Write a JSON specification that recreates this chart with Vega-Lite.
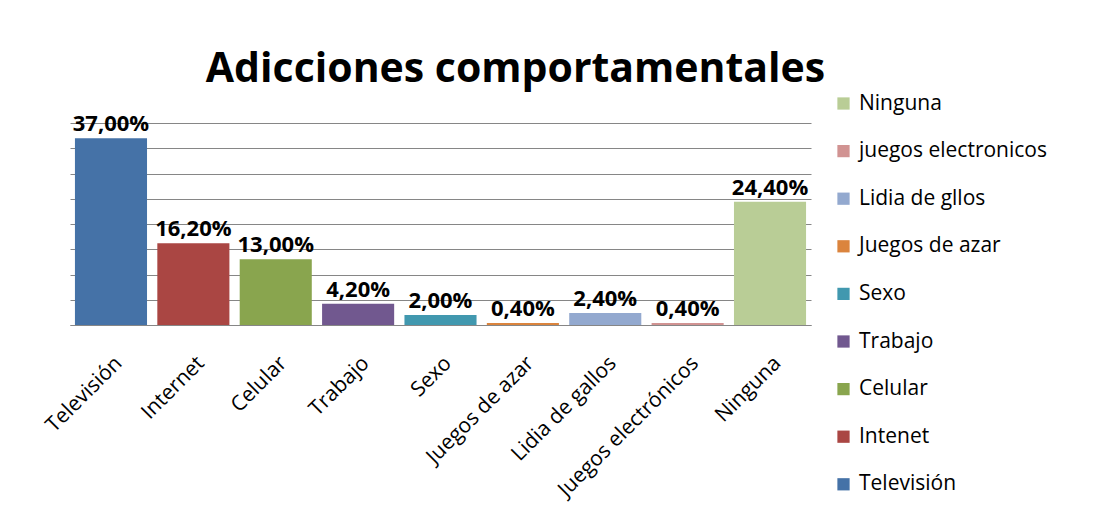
{
  "$schema": "https://vega.github.io/schema/vega-lite/v6.json",
  "width": 741,
  "height": 202,
  "autosize": {"type": "none"},
  "padding": {"left": 70, "top": 123, "right": 292, "bottom": 201},
  "background": "white",
  "title": {
    "text": "Adicciones  comportamentales",
    "font": "Open Sans",
    "fontSize": 41,
    "fontWeight": "bold",
    "color": "black",
    "anchor": "middle",
    "dx": 75,
    "offset": 2
  },
  "data": {
    "values": [
      {"categoria": "Televisión", "leyenda": "Televisión", "pct": 0.37},
      {"categoria": "Internet", "leyenda": "Intenet", "pct": 0.162},
      {"categoria": "Celular", "leyenda": "Celular", "pct": 0.13},
      {"categoria": "Trabajo", "leyenda": "Trabajo", "pct": 0.042},
      {"categoria": "Sexo", "leyenda": "Sexo", "pct": 0.02},
      {"categoria": "Juegos de azar", "leyenda": "Juegos de azar", "pct": 0.004},
      {"categoria": "Lidia de gallos", "leyenda": "Lidia de gllos", "pct": 0.024},
      {"categoria": "Juegos electrónicos", "leyenda": "juegos electronicos", "pct": 0.004},
      {"categoria": "Ninguna", "leyenda": "Ninguna", "pct": 0.244}
    ]
  },
  "encoding": {
    "x": {
      "field": "categoria",
      "type": "nominal",
      "sort": ["Televisión", "Internet", "Celular", "Trabajo", "Sexo", "Juegos de azar", "Lidia de gallos", "Juegos electrónicos", "Ninguna"],
      "scale": {"paddingInner": 0.125, "paddingOuter": 0.06},
      "axis": {
        "title": null,
        "labelAngle": -45,
        "labelFont": "Open Sans",
        "labelFontSize": 21,
        "labelColor": "black",
        "labelPadding": 27,
        "labelDx": -5,
        "labelLimit": 300,
        "ticks": false,
        "domainColor": "#868686",
        "domainWidth": 1
      }
    },
    "y": {
      "field": "pct",
      "type": "quantitative",
      "scale": {"domain": [0, 0.4], "nice": false},
      "axis": {
        "title": null,
        "labels": false,
        "ticks": false,
        "domain": false,
        "values": [0, 0.05, 0.1, 0.15, 0.2, 0.25, 0.3, 0.35, 0.4],
        "gridColor": "#868686",
        "gridWidth": 1
      }
    }
  },
  "layer": [
    {
      "mark": {"type": "bar"},
      "encoding": {
        "color": {
          "field": "leyenda",
          "type": "nominal",
          "scale": {
            "domain": ["Ninguna", "juegos electronicos", "Lidia de gllos", "Juegos de azar", "Sexo", "Trabajo", "Celular", "Intenet", "Televisión"],
            "range": ["#B9CD96", "#D19392", "#93A9CF", "#DB843D", "#4198AF", "#71588F", "#89A54E", "#AA4643", "#4572A7"]
          },
          "legend": {
            "title": null,
            "orient": "none",
            "legendX": 763,
            "legendY": -30,
            "symbolType": "square",
            "symbolSize": 150,
            "symbolStrokeWidth": 0,
            "labelFont": "Open Sans",
            "labelFontSize": 21,
            "labelColor": "black",
            "labelOffset": 5,
            "labelLimit": 300,
            "rowPadding": 25.6
          }
        }
      }
    },
    {
      "mark": {"type": "text", "baseline": "bottom", "dy": -2, "font": "Open Sans", "fontSize": 22, "fontWeight": "bold", "color": "black"},
      "encoding": {
        "text": {"field": "pct", "type": "quantitative", "format": ".2%"}
      }
    }
  ],
  "config": {
    "locale": {"number": {"decimal": ",", "thousands": ".", "grouping": [3], "currency": ["", " €"]}},
    "view": {"stroke": null}
  }
}
